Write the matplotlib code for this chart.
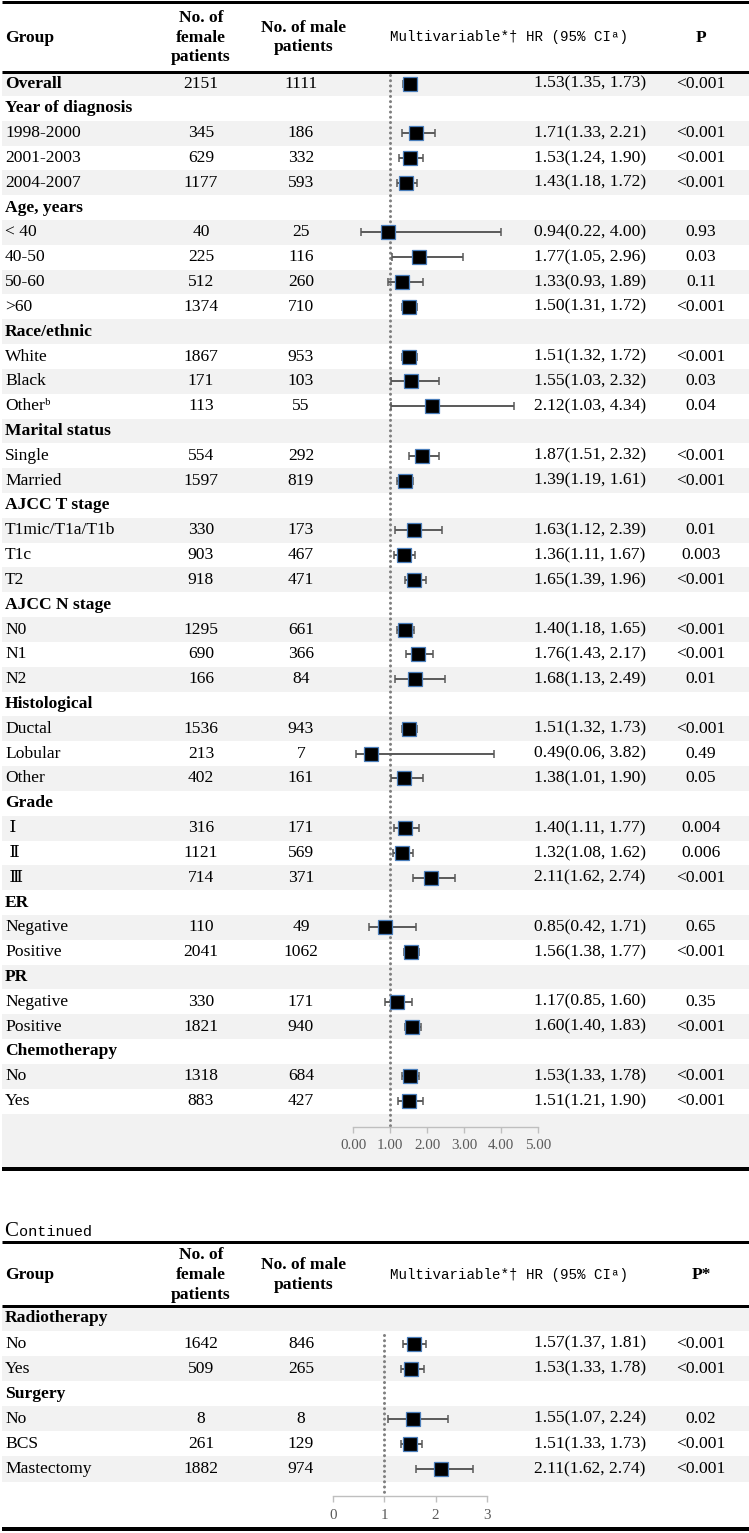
import matplotlib
matplotlib.use("Agg")
import matplotlib.pyplot as plt

# ---------------- data: main table ----------------
labels1 = ["Overall", "Year of diagnosis", "1998-2000", "2001-2003", "2004-2007",
           "Age, years", "< 40", "40-50", "50-60", ">60",
           "Race/ethnic", "White", "Black", "Other\u1d47",
           "Marital status", "Single", "Married",
           "AJCC T stage", "T1mic/T1a/T1b", "T1c", "T2",
           "AJCC N stage", "N0", "N1", "N2",
           "Histological", "Ductal", "Lobular", "Other",
           "Grade", " \u2160", " \u2161", " \u2162",
           "ER", "Negative", "Positive",
           "PR", "Negative", "Positive",
           "Chemotherapy", "No", "Yes"]
female1 = [2151, None, 345, 629, 1177,
           None, 40, 225, 512, 1374,
           None, 1867, 171, 113,
           None, 554, 1597,
           None, 330, 903, 918,
           None, 1295, 690, 166,
           None, 1536, 213, 402,
           None, 316, 1121, 714,
           None, 110, 2041,
           None, 330, 1821,
           None, 1318, 883]
male1 = [1111, None, 186, 332, 593,
         None, 25, 116, 260, 710,
         None, 953, 103, 55,
         None, 292, 819,
         None, 173, 467, 471,
         None, 661, 366, 84,
         None, 943, 7, 161,
         None, 171, 569, 371,
         None, 49, 1062,
         None, 171, 940,
         None, 684, 427]
hr1 = [1.53, None, 1.71, 1.53, 1.43,
       None, 0.94, 1.77, 1.33, 1.50,
       None, 1.51, 1.55, 2.12,
       None, 1.87, 1.39,
       None, 1.63, 1.36, 1.65,
       None, 1.40, 1.76, 1.68,
       None, 1.51, 0.49, 1.38,
       None, 1.40, 1.32, 2.11,
       None, 0.85, 1.56,
       None, 1.17, 1.60,
       None, 1.53, 1.51]
lo1 = [1.35, None, 1.33, 1.24, 1.18,
       None, 0.22, 1.05, 0.93, 1.31,
       None, 1.32, 1.03, 1.03,
       None, 1.51, 1.19,
       None, 1.12, 1.11, 1.39,
       None, 1.18, 1.43, 1.13,
       None, 1.32, 0.06, 1.01,
       None, 1.11, 1.08, 1.62,
       None, 0.42, 1.38,
       None, 0.85, 1.40,
       None, 1.33, 1.21]
hi1 = [1.73, None, 2.21, 1.90, 1.72,
       None, 4.00, 2.96, 1.89, 1.72,
       None, 1.72, 2.32, 4.34,
       None, 2.32, 1.61,
       None, 2.39, 1.67, 1.96,
       None, 1.65, 2.17, 2.49,
       None, 1.73, 3.82, 1.90,
       None, 1.77, 1.62, 2.74,
       None, 1.71, 1.77,
       None, 1.60, 1.83,
       None, 1.78, 1.90]
p1 = ["<0.001", "", "<0.001", "<0.001", "<0.001",
      "", "0.93", "0.03", "0.11", "<0.001",
      "", "<0.001", "0.03", "0.04",
      "", "<0.001", "<0.001",
      "", "0.01", "0.003", "<0.001",
      "", "<0.001", "<0.001", "0.01",
      "", "<0.001", "0.49", "0.05",
      "", "0.004", "0.006", "<0.001",
      "", "0.65", "<0.001",
      "", "0.35", "<0.001",
      "", "<0.001", "<0.001"]
ticks1 = [0, 1, 2, 3, 4, 5]
ticklabels1 = ["0.00", "1.00", "2.00", "3.00", "4.00", "5.00"]

# ---------------- data: continued table ----------------
labels2 = ["Radiotherapy", "No", "Yes", "Surgery", "No", "BCS", "Mastectomy"]
female2 = [None, 1642, 509, None, 8, 261, 1882]
male2 = [None, 846, 265, None, 8, 129, 974]
hr2 = [None, 1.57, 1.53, None, 1.55, 1.51, 2.11]
lo2 = [None, 1.37, 1.33, None, 1.07, 1.33, 1.62]
hi2 = [None, 1.81, 1.78, None, 2.24, 1.73, 2.74]
p2 = ["", "<0.001", "<0.001", "", "0.02", "<0.001", "<0.001"]
ticks2 = [0, 1, 2, 3]
ticklabels2 = ["0", "1", "2", "3"]

# ---------------- styling ----------------
W, H = 749, 1533
SERIF = ["Liberation Serif", "DejaVu Serif", "DejaVu Sans", "Noto Sans CJK SC"]
MONO = ["Liberation Mono", "DejaVu Sans Mono"]
FS = 12.6
STRIPE = "#F2F2F2"
PT = 72.0 / 100.0  # points per pixel

fig = plt.figure(figsize=(W / 100, H / 100), dpi=100)
bg = fig.add_axes([0, 0, 1, 1])
bg.set_xlim(0, W)
bg.set_ylim(H, 0)
bg.axis("off")

X_LABEL, X_FEM, X_MALE, X_HR, X_P = 5, 201, 301, 590, 701


def draw_table(labels, female, male, hr, lo, hi, pv, y0, pitch,
               top_line, header_line, bottom_line, p_title,
               px0, ppu, axis_i, ticks, ticklabels, ax_left, ax_right):
    n = len(labels)
    # stripes
    for i in range(n):
        if i % 2 == 0:
            top = y0 + pitch * (i - 0.5)
            bg.fill_between([2, W], top, top + pitch, color=STRIPE, lw=0, zorder=0)
    if n % 2 == 0:
        top = y0 + pitch * (n - 0.5)
        bg.fill_between([2, W], top, bottom_line, color=STRIPE, lw=0, zorder=0)
    # rules
    bg.plot([2, W], [top_line, top_line], color="black", lw=3 * PT, zorder=3,
            solid_capstyle="butt")
    bg.plot([2, W], [header_line, header_line], color="black", lw=3 * PT, zorder=3,
            solid_capstyle="butt")
    bg.plot([2, W], [bottom_line, bottom_line], color="black", lw=4 * PT, zorder=3,
            solid_capstyle="butt")
    # header
    hy = (top_line + header_line) / 2 + 1
    bg.text(X_LABEL, hy, "Group", fontfamily=SERIF, fontweight="bold", fontsize=FS,
            ha="left", va="center")
    bg.text(X_FEM, hy, "No. of\nfemale\npatients", fontfamily=SERIF, fontweight="bold",
            fontsize=FS, ha="center", va="center", multialignment="center",
            linespacing=1.32)
    bg.text(X_MALE + 3, hy, "No. of male\npatients", fontfamily=SERIF, fontweight="bold",
            fontsize=FS, ha="center", va="center", multialignment="center",
            linespacing=1.32)
    bg.text(509, hy, "Multivariable*\u2020 HR (95% CI\u1d43)", fontfamily=MONO,
            fontsize=10.2, ha="center", va="center")
    bg.text(X_P, hy, p_title, fontfamily=SERIF, fontweight="bold", fontsize=FS,
            ha="center", va="center")
    # rows
    for i in range(n):
        yc = y0 + pitch * i
        is_head = hr[i] is None or labels[i] == "Overall"
        bg.text(X_LABEL, yc, labels[i], fontfamily=SERIF, fontsize=FS,
                fontweight="bold" if is_head else "normal", ha="left", va="center")
        if female[i] is not None:
            bg.text(X_FEM, yc, str(female[i]), fontfamily=SERIF, fontsize=FS,
                    ha="center", va="center")
            bg.text(X_MALE, yc, str(male[i]), fontfamily=SERIF, fontsize=FS,
                    ha="center", va="center")
        if hr[i] is not None:
            bg.text(X_HR, yc, f"{hr[i]:.2f}({lo[i]:.2f}, {hi[i]:.2f})",
                    fontfamily=SERIF, fontsize=FS, ha="center", va="center")
        if pv[i]:
            bg.text(X_P, yc, pv[i], fontfamily=SERIF, fontsize=FS,
                    ha="center", va="center")
    # forest axes
    ax_top, ax_bot = header_line, bottom_line
    ax = fig.add_axes([ax_left / W, 1 - ax_bot / H,
                       (ax_right - ax_left) / W, (ax_bot - ax_top) / H])
    ax.patch.set_visible(False)
    ax.set_xlim((ax_left - px0) / ppu, (ax_right - px0) / ppu)
    ax.set_ylim((ax_bot - y0) / pitch, (ax_top - y0) / pitch)
    for s in ["top", "left", "right"]:
        ax.spines[s].set_visible(False)
    sp = ax.spines["bottom"]
    sp.set_position(("data", axis_i))
    sp.set_bounds(ticks[0], ticks[-1])
    sp.set_color("#BFBFBF")
    sp.set_linewidth(1.0)
    ax.set_yticks([])
    ax.set_xticks(ticks)
    ax.set_xticklabels(ticklabels, fontfamily=SERIF, fontsize=10.8, color="#595959")
    ax.tick_params(axis="x", direction="out", length=4, width=1.0,
                   color="#BFBFBF", pad=5)
    rows = [i for i in range(n) if hr[i] is not None]
    first = rows[0]
    ax.plot([1, 1], [first - 0.35, axis_i], color="#7F7F7F", lw=2.2,
            linestyle=(0, (0.01, 1.7)), dash_capstyle="round", zorder=1)
    xs = [hr[i] for i in rows]
    ys = rows
    xerr = [[hr[i] - lo[i] for i in rows], [hi[i] - hr[i] for i in rows]]
    ax.errorbar(xs, ys, xerr=xerr, fmt="none", ecolor="#595959", elinewidth=1.4,
                capsize=2.6, capthick=1.1, zorder=2)
    ax.plot(xs, ys, "s", ms=9.4, mfc="black", mec="#4A7EBB", mew=0.9, zorder=3,
            linestyle="none")


draw_table(labels1, female1, male1, hr1, lo1, hi1, p1, 83.5, 24.82,
           1.5, 71.5, 1168.5, "P", 353.3, 36.94, 42.03, ticks1, ticklabels1, 335, 560)

# "Continued" caption
bg.text(4, 1236, "C", fontfamily=SERIF, fontsize=15, ha="left", va="baseline")
bg.text(19, 1236, "ontinued", fontfamily=MONO, fontsize=11, ha="left",
        va="baseline")

draw_table(labels2, female2, male2, hr2, lo2, hi2, p2, 1318.5, 25.08,
           1242, 1306, 1529, "P*", 333.3, 51.1, 7.08, ticks2, ticklabels2, 320, 560)

fig.savefig("out.png", dpi=100)
